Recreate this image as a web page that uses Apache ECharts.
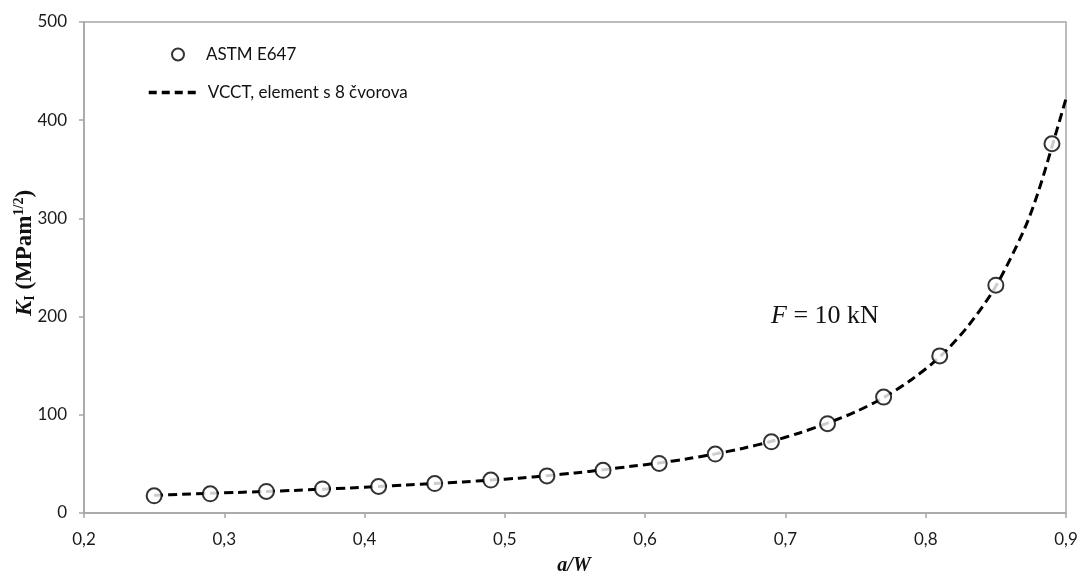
<!DOCTYPE html>
<html><head><meta charset="utf-8">
<script src="https://cdn.jsdelivr.net/npm/echarts@6/dist/echarts.min.js"></script>
<style>html,body{margin:0;padding:0;background:#fff}#c{width:1081px;height:577px}</style>
</head><body><div id="c"></div>
<script>
const astmX = [0.25,0.29,0.33,0.37,0.41,0.45,0.49,0.53,0.57,0.61,0.65,0.69,0.73,0.77,0.81,0.85,0.89];
const astmK = [17.5,19.5,22,24.5,27,30,33.5,37.8,43.5,50.5,60,72.5,91,118,160,232,376];
const vcctX = [0.25,0.27,0.29,0.31,0.33,0.35,0.37,0.39,0.41,0.43,0.45,0.47,0.49,0.51,0.53,0.55,0.57,0.59,0.61,0.63,0.65,0.67,0.69,0.71,0.73,0.75,0.77,0.79,0.81,0.83,0.85,0.87,0.88,0.89,0.90];
const vcctK = [18,19,20,21,22,23,24.3,25.5,27,28.5,30,31.6,33.5,35.5,38,40.8,44,47.5,51,55.2,60.2,66,73,81.5,91.5,103,117.5,136,159,190,231,288,326,373,422];
const xTicks = ['0,2','0,3','0,4','0,5','0,6','0,7','0,8','0,9'];

const chart = echarts.init(document.getElementById('c'));
const tickFont = {fontFamily:'Lato, Open Sans, sans-serif', fontSize:17, color:'#1a1a1a'};
const serif = 'Liberation Serif';
chart.setOption({
  animation:false,
  grid:{left:84,right:15,top:22,bottom:64,show:true,borderColor:'#a6a6a6',borderWidth:1.5},
  legend:[
    {data:['ASTM E647'],left:166,top:41,itemWidth:12,itemHeight:12,itemGap:0,
     itemStyle:{borderWidth:3},
     textStyle:{fontFamily:'Lato, Open Sans, sans-serif',fontSize:17,color:'#111',padding:[0,0,0,17]}},
    {data:['VCCT, element s 8 čvorova'],left:142,top:79,itemWidth:52,itemHeight:14,
     itemStyle:{opacity:0},
     lineStyle:{width:3.5,type:[8,5]},
     textStyle:{fontFamily:'Lato, Open Sans, sans-serif',fontSize:17,color:'#111',padding:[0,0,0,2]}}
  ],
  xAxis:{type:'value',min:0.2,max:0.9,interval:0.1,
    axisLine:{show:true,lineStyle:{color:'#a6a6a6',width:1.5}},
    axisTick:{show:true,length:5,lineStyle:{color:'#a6a6a6',width:1.5}},
    splitLine:{show:false},
    axisLabel:Object.assign({margin:18,formatter:v=>{const i=Math.round((v-0.2)*10);return xTicks[i]||'';}},tickFont)},
  yAxis:{type:'value',min:0,max:500,interval:100,
    axisLine:{show:true,lineStyle:{color:'#a6a6a6',width:1.5}},
    axisTick:{show:true,length:5,lineStyle:{color:'#a6a6a6',width:1.5}},
    splitLine:{show:false},
    axisLabel:Object.assign({margin:17},tickFont)},
  graphic:[
    {type:'text',left:771,top:303,style:{
      text:'{i|F} = 10 kN',
      rich:{i:{fontFamily:serif,fontStyle:'italic',fontSize:26,fill:'#111'}},
      font:'26px "Liberation Serif"',fill:'#111'}},
    {type:'text',x:574,y:566,style:{
      text:'a/W',align:'center',verticalAlign:'middle',
      font:'italic bold 20px "Liberation Serif"',fill:'#111'}},
    {type:'text',x:25,y:253,rotation:Math.PI/2,style:{
      text:'{k|K}{s|I}{u| (MPam}{p|1/2}{u|)}',align:'center',verticalAlign:'middle',
      rich:{
        k:{fontFamily:serif,fontStyle:'italic',fontWeight:'bold',fontSize:23,fill:'#111'},
        s:{fontFamily:serif,fontWeight:'bold',fontSize:14,fill:'#111',verticalAlign:'bottom',padding:[9,0,0,0]},
        u:{fontFamily:serif,fontWeight:'bold',fontSize:23,fill:'#111'},
        p:{fontFamily:serif,fontWeight:'bold',fontSize:14,fill:'#111',verticalAlign:'top',padding:[0,0,11,0]}}}}
  ],
  series:[
    {name:'VCCT, element s 8 čvorova',type:'line',smooth:0.3,showSymbol:false,symbol:'none',z:2,
     data:vcctX.map((x,i)=>[x,vcctK[i]]),
     itemStyle:{color:'#000'},
     lineStyle:{color:'#000',width:3,type:[9,5]}},
    {name:'ASTM E647',type:'scatter',symbol:'emptyCircle',symbolSize:15,z:3,
     data:astmX.map((x,i)=>[x,astmK[i]]),
     itemStyle:{color:'#000',borderColor:'#000',borderWidth:2.2}}
  ]
});
</script></body></html>
